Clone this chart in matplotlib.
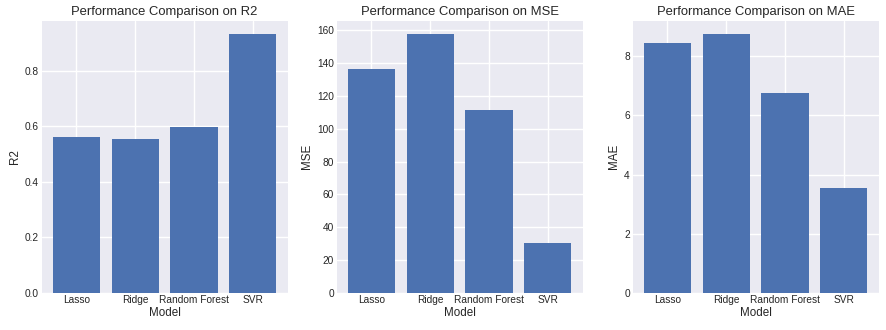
import matplotlib
matplotlib.use("Agg")
import matplotlib.pyplot as plt

models = ["Lasso", "Ridge", "Random Forest", "SVR"]
r2_scores = [0.563, 0.555, 0.599, 0.935]
mse_scores = [136.6, 158.0, 111.6, 30.1]
mae_scores = [8.46, 8.77, 6.77, 3.55]

metrics = ["R2", "MSE", "MAE"]
scores = [r2_scores, mse_scores, mae_scores]

plt.style.use("seaborn-v0_8")
plt.rcParams["font.family"] = ["Liberation Sans", "DejaVu Sans"]

fig = plt.figure(figsize=(8.86, 3.30), dpi=100)
lefts = [41.7, 336.7, 632.7]
width = 245.8
for left, metric, vals in zip(lefts, metrics, scores):
    ax = fig.add_axes([left / 886, (330 - 292.7) / 330, width / 886, (292.7 - 20.7) / 330])
    ax.bar(models, vals, color="#4C72B0")
    ax.set_title(f"Performance Comparison on {metric}", fontsize=9.4, pad=4)
    ax.set_xlabel("Model", fontsize=8.4, labelpad=1)
    ax.set_ylabel(metric, fontsize=8.4, labelpad=3)
    ax.tick_params(labelsize=7.3, pad=2)

fig.savefig("out.png", dpi=100)
